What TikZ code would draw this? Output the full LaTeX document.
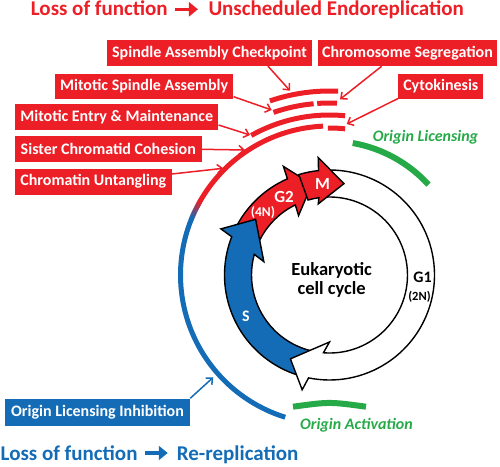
\documentclass[tikz,border=0pt]{standalone}
\usepackage{fontspec}
\setmainfont{Carlito}
\usetikzlibrary{arrows.meta,calc}
\definecolor{cred}{RGB}{236,30,38}
\definecolor{cblue}{RGB}{20,108,182}
\definecolor{cgreen}{RGB}{38,170,72}
\newcommand\cycarrow[7]{%
 \pgfmathsetmacro\qo{#5+1.7*(#4-#5)/12}%
 \pgfmathsetmacro\qi{#4-4*(#4-#5)/12}%
 \filldraw[fill=#1,draw=black,line width=1.4pt,line join=miter]
  ($(C)+(#3:105)$) arc[start angle=#3,end angle=\qo,radius=105]
  -- ($(C)+(#5:118)$) -- ($(C)+(#6:92.5)$) -- ($(C)+(#4:#7)$)
  -- ($(C)+(\qi:78)$) arc[start angle=\qi,end angle=#2,radius=78] -- cycle;}
\tikzset{
 redbox/.style={fill=cred,text=white,font=\bfseries\fontsize{16}{18}\selectfont,minimum height=26pt,inner sep=0pt},
 bluebox/.style={redbox,fill=cblue},
 conn/.style={cred,line width=1.5pt,-{Straight Barb[length=5pt,width=9pt]}},
 arcline/.style={line width=5pt},
 greenarc/.style={cgreen,line width=6pt},
 greenlab/.style={text=cgreen,font=\bfseries\itshape\fontsize{16}{18}\selectfont,inner sep=0pt},
 title/.style={font=\bfseries\fontsize{21}{23}\selectfont,inner sep=0pt},
 titlearrow/.style={line width=3.5pt,-{Triangle[length=9pt,width=14pt]}},
 cyclab/.style={font=\bfseries\fontsize{17}{19}\selectfont,inner sep=0pt}
}
\begin{document}
\begin{tikzpicture}[x=1pt,y=1pt]
\useasboundingbox (0,0) rectangle (500,-466);
\coordinate (C) at (329.5,-275);

% titles
\node[title,text=cred,anchor=base west] (t1a) at (30.7,-15) {Loss of function};
\node[title,text=cred,anchor=base west] (t1b) at (208.3,-15) {Unscheduled Endoreplication};
\draw[cred,titlearrow] (t1a.east |- 0,-9.3) ++(7,0) -- ++(23,0);
\node[title,text=cblue,anchor=base west] (t2a) at (0.5,-460.5) {Loss of function};
\node[title,text=cblue,anchor=base west] (t2b) at (176.7,-460.5) {Re-replication};
\draw[cblue,titlearrow] (t2a.east |- 0,-453) ++(7,0) -- ++(23,0);

% big arcs
\draw[cred,arcline] ($(C)+(92.5:149)$) arc[start angle=92.5,end angle=150.2,radius=149];
\foreach \i in {0,...,9}{
  \pgfmathsetmacro\p{100-\i*11}
  \pgfmathsetmacro\aa{150+\i*0.8}
  \draw[cred!\p!cblue,arcline] ($(C)+(\aa:149)$) arc[start angle=\aa,end angle={\aa+1.1},radius=149];
}
\draw[cblue,arcline] ($(C)+(158:149)$) arc[start angle=158,end angle=252.7,radius=149];
\draw[cred,arcline] ($(C)+(90.6:147)$) arc[start angle=90.6,end angle=83.9,radius=147];
\draw[cred,arcline] ($(C)+(119.3:160)$) arc[start angle=119.3,end angle=84.4,radius=160];
\draw[cred,arcline] ($(C)+(109:172)$) arc[start angle=109,end angle=95.3,radius=172];
\draw[cred,arcline] ($(C)+(94.1:172)$) arc[start angle=94.1,end angle=87.5,radius=172];
\draw[cred,arcline] ($(C)+(108.9:184)$) arc[start angle=108.9,end angle=87.3,radius=184];
\draw[greenarc] ($(C)+(80:134)$) arc[start angle=80,end angle=42.4,radius=134];
\draw[greenarc] (293,-406.7) .. controls (329.5,-401.7) .. (366,-406.7);

% cell cycle arrows
\cycarrow{cred}{158}{154}{117.5}{113}{101}{67}
\cycarrow{cblue}{261}{254}{168.5}{157}{143}{67}
\cycarrow{white}{96}{93}{-90}{-103.4}{-115}{67}
\cycarrow{cred}{106}{107}{99}{95.5}{81}{72}

% cycle labels
\node[cyclab,text=white] (g2) at (284,-197) {G2};
\node[font=\bfseries\fontsize{13.5}{15}\selectfont,text=white,inner sep=0pt] (n4) at (263,-212.5) {(4N)};
\node[cyclab,text=white] (m) at (322.5,-184) {M};
\node[font=\bfseries\fontsize{16}{18}\selectfont,text=white,inner sep=0pt] (s) at (246,-316) {S};
\node[font=\bfseries\fontsize{16}{18}\selectfont,inner sep=0pt] (g1) at (422.5,-277) {G1};
\node[font=\bfseries\fontsize{12.5}{14}\selectfont,inner sep=0pt] (n2) at (419.5,-297) {(2N)};
\node[font=\bfseries\fontsize{18.5}{19}\selectfont,align=center,inner sep=0pt] (euk) at (331.7,-280) {Eukaryotic\\cell cycle};

% boxes
\node[redbox,minimum width=205.6pt] (sac) at (209.5,-53) {Spindle Assembly Checkpoint};
\node[redbox,minimum width=178.4pt] (cs) at (407.5,-53) {Chromosome Segregation};
\node[redbox,minimum width=178.3pt,minimum height=25pt] (msa) at (144.2,-86.5) {Mitotic Spindle Assembly};
\node[redbox,minimum width=85pt,minimum height=25pt] (cyto) at (440.8,-86.5) {Cytokinesis};
\node[redbox,minimum width=203.3pt] (mem) at (116.7,-117.3) {Mitotic Entry \& Maintenance};
\node[redbox,minimum width=186.7pt] (scc) at (108.3,-149.3) {Sister Chromatid Cohesion};
\node[redbox,minimum width=156.7pt] (cu) at (93.3,-181.7) {Chromatin Untangling};
\node[bluebox,minimum width=185pt,minimum height=27pt] (oli) at (97.5,-412) {Origin Licensing Inhibition};

% arrow targets
\coordinate (tsac) at (290,-90.7);
\coordinate (tcs) at (340,-99.3);
\coordinate (tmsa) at (271.7,-110);
\coordinate (tcyto) at (346.7,-124);
\coordinate (tmem) at (250,-135);
\coordinate (tscc) at (245,-150);
\coordinate (tcu) at (223.3,-168.3);
\coordinate (toli) at (213.3,-377.3);

\draw[conn] ([xshift=58.5pt]sac.south) -- (tsac);
\draw[conn] ([xshift=-25.8pt]cs.south) -- (tcs);
\draw[conn] ([yshift=-10.2pt]msa.east) -- (tmsa);
\draw[conn] ([yshift=0.7pt]cyto.south west) -- (tcyto);
\draw[conn] ([yshift=-7.7pt]mem.east) -- (tmem);
\draw[conn] (scc.east) -- (tscc);
\draw[conn] ([yshift=7.7pt]cu.east) -- (tcu);
\draw[conn,cblue] (oli.north east) -- (toli);

% green labels
\node[greenlab] (ol) at (425.5,-137.5) {Origin Licensing};
\node[greenlab,anchor=west] (oa) at (300,-425) {Origin Activation};
\end{tikzpicture}
\end{document}
